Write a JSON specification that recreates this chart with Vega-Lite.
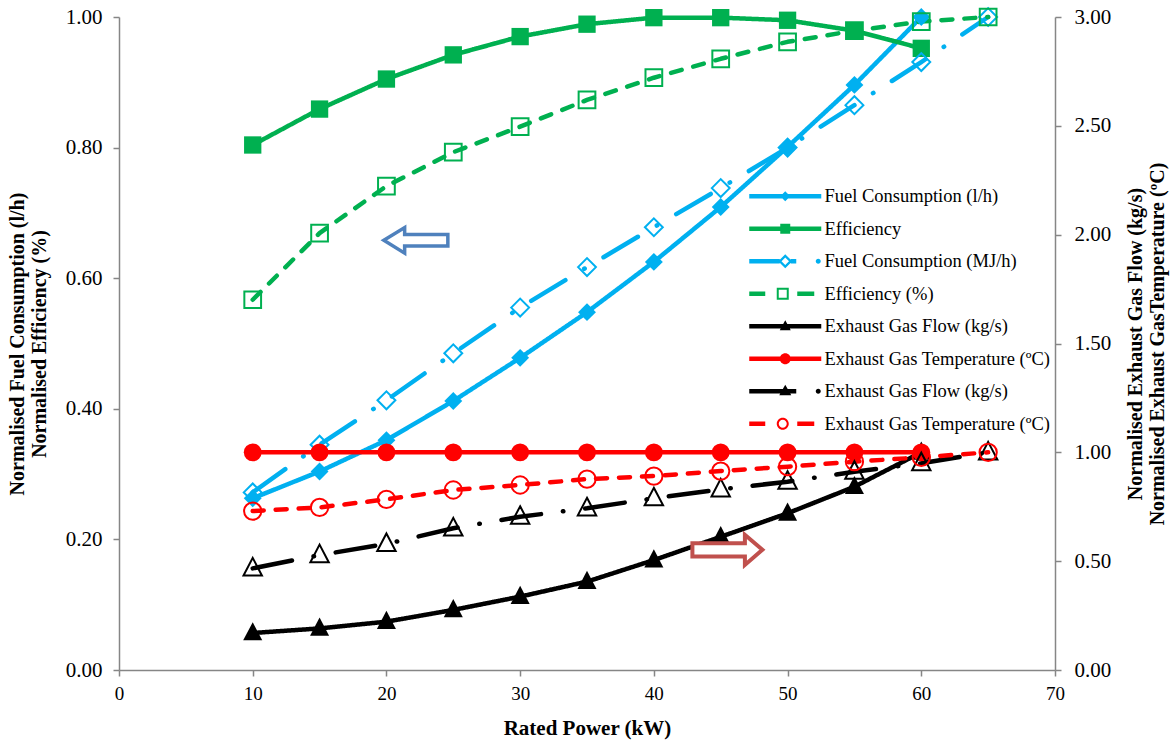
{
  "$schema": "https://vega.github.io/schema/vega-lite/v6.json",
  "width": 936,
  "height": 653,
  "autosize": {"type": "none"},
  "padding": {"left": 119, "top": 17, "right": 117, "bottom": 73},
  "background": "white",
  "config": {
    "view": {"stroke": null},
    "font": "Liberation Serif",
    "axis": {
      "domainColor": "#868686", "tickColor": "#868686", "domainWidth": 1.5, "tickWidth": 1.5,
      "tickSize": 6, "grid": false, "labelFont": "Liberation Serif", "labelColor": "black",
      "titleFont": "Liberation Serif", "titleColor": "black", "titleFontWeight": "bold"
    }
  },
  "datasets": {
    "main": [
      {"power": 10, "value": 0.263, "series": "Fuel Consumption (l/h)"},
      {"power": 15, "value": 0.304, "series": "Fuel Consumption (l/h)"},
      {"power": 20, "value": 0.352, "series": "Fuel Consumption (l/h)"},
      {"power": 25, "value": 0.412, "series": "Fuel Consumption (l/h)"},
      {"power": 30, "value": 0.478, "series": "Fuel Consumption (l/h)"},
      {"power": 35, "value": 0.548, "series": "Fuel Consumption (l/h)"},
      {"power": 40, "value": 0.625, "series": "Fuel Consumption (l/h)"},
      {"power": 45, "value": 0.709, "series": "Fuel Consumption (l/h)"},
      {"power": 50, "value": 0.801, "series": "Fuel Consumption (l/h)"},
      {"power": 55, "value": 0.896, "series": "Fuel Consumption (l/h)"},
      {"power": 60, "value": 1.000, "series": "Fuel Consumption (l/h)"},
      {"power": 10, "value": 0.804, "series": "Efficiency"},
      {"power": 15, "value": 0.859, "series": "Efficiency"},
      {"power": 20, "value": 0.905, "series": "Efficiency"},
      {"power": 25, "value": 0.942, "series": "Efficiency"},
      {"power": 30, "value": 0.970, "series": "Efficiency"},
      {"power": 35, "value": 0.989, "series": "Efficiency"},
      {"power": 40, "value": 0.999, "series": "Efficiency"},
      {"power": 45, "value": 0.999, "series": "Efficiency"},
      {"power": 50, "value": 0.995, "series": "Efficiency"},
      {"power": 55, "value": 0.979, "series": "Efficiency"},
      {"power": 60, "value": 0.952, "series": "Efficiency"},
      {"power": 10, "value": 0.272, "series": "Fuel Consumption (MJ/h)"},
      {"power": 15, "value": 0.345, "series": "Fuel Consumption (MJ/h)"},
      {"power": 20, "value": 0.413, "series": "Fuel Consumption (MJ/h)"},
      {"power": 25, "value": 0.485, "series": "Fuel Consumption (MJ/h)"},
      {"power": 30, "value": 0.555, "series": "Fuel Consumption (MJ/h)"},
      {"power": 35, "value": 0.617, "series": "Fuel Consumption (MJ/h)"},
      {"power": 40, "value": 0.678, "series": "Fuel Consumption (MJ/h)"},
      {"power": 45, "value": 0.738, "series": "Fuel Consumption (MJ/h)"},
      {"power": 50, "value": 0.800, "series": "Fuel Consumption (MJ/h)"},
      {"power": 55, "value": 0.865, "series": "Fuel Consumption (MJ/h)"},
      {"power": 60, "value": 0.931, "series": "Fuel Consumption (MJ/h)"},
      {"power": 65, "value": 1.000, "series": "Fuel Consumption (MJ/h)"},
      {"power": 10, "value": 0.567, "series": "Efficiency (%)"},
      {"power": 15, "value": 0.669, "series": "Efficiency (%)"},
      {"power": 20, "value": 0.741, "series": "Efficiency (%)"},
      {"power": 25, "value": 0.793, "series": "Efficiency (%)"},
      {"power": 30, "value": 0.832, "series": "Efficiency (%)"},
      {"power": 35, "value": 0.873, "series": "Efficiency (%)"},
      {"power": 40, "value": 0.907, "series": "Efficiency (%)"},
      {"power": 45, "value": 0.936, "series": "Efficiency (%)"},
      {"power": 50, "value": 0.962, "series": "Efficiency (%)"},
      {"power": 55, "value": 0.979, "series": "Efficiency (%)"},
      {"power": 60, "value": 0.993, "series": "Efficiency (%)"},
      {"power": 65, "value": 1.000, "series": "Efficiency (%)"},
      {"power": 10, "value": 0.170, "series": "Exhaust Gas Flow (kg/s)"},
      {"power": 15, "value": 0.191, "series": "Exhaust Gas Flow (kg/s)"},
      {"power": 20, "value": 0.222, "series": "Exhaust Gas Flow (kg/s)"},
      {"power": 25, "value": 0.276, "series": "Exhaust Gas Flow (kg/s)"},
      {"power": 30, "value": 0.337, "series": "Exhaust Gas Flow (kg/s)"},
      {"power": 35, "value": 0.406, "series": "Exhaust Gas Flow (kg/s)"},
      {"power": 40, "value": 0.505, "series": "Exhaust Gas Flow (kg/s)"},
      {"power": 45, "value": 0.612, "series": "Exhaust Gas Flow (kg/s)"},
      {"power": 50, "value": 0.720, "series": "Exhaust Gas Flow (kg/s)"},
      {"power": 55, "value": 0.842, "series": "Exhaust Gas Flow (kg/s)"},
      {"power": 60, "value": 1.000, "series": "Exhaust Gas Flow (kg/s)"},
      {"power": 10, "value": 1.000, "series": "Exhaust Gas Temperature (ºC)"},
      {"power": 15, "value": 1.000, "series": "Exhaust Gas Temperature (ºC)"},
      {"power": 20, "value": 1.000, "series": "Exhaust Gas Temperature (ºC)"},
      {"power": 25, "value": 1.000, "series": "Exhaust Gas Temperature (ºC)"},
      {"power": 30, "value": 1.000, "series": "Exhaust Gas Temperature (ºC)"},
      {"power": 35, "value": 1.000, "series": "Exhaust Gas Temperature (ºC)"},
      {"power": 40, "value": 1.000, "series": "Exhaust Gas Temperature (ºC)"},
      {"power": 45, "value": 1.000, "series": "Exhaust Gas Temperature (ºC)"},
      {"power": 50, "value": 1.000, "series": "Exhaust Gas Temperature (ºC)"},
      {"power": 55, "value": 1.000, "series": "Exhaust Gas Temperature (ºC)"},
      {"power": 60, "value": 1.000, "series": "Exhaust Gas Temperature (ºC)"},
      {"power": 10, "value": 0.467, "series": "Exhaust Gas Flow (kg/s) 2"},
      {"power": 15, "value": 0.528, "series": "Exhaust Gas Flow (kg/s) 2"},
      {"power": 20, "value": 0.579, "series": "Exhaust Gas Flow (kg/s) 2"},
      {"power": 25, "value": 0.651, "series": "Exhaust Gas Flow (kg/s) 2"},
      {"power": 30, "value": 0.704, "series": "Exhaust Gas Flow (kg/s) 2"},
      {"power": 35, "value": 0.743, "series": "Exhaust Gas Flow (kg/s) 2"},
      {"power": 40, "value": 0.789, "series": "Exhaust Gas Flow (kg/s) 2"},
      {"power": 45, "value": 0.830, "series": "Exhaust Gas Flow (kg/s) 2"},
      {"power": 50, "value": 0.865, "series": "Exhaust Gas Flow (kg/s) 2"},
      {"power": 55, "value": 0.911, "series": "Exhaust Gas Flow (kg/s) 2"},
      {"power": 60, "value": 0.950, "series": "Exhaust Gas Flow (kg/s) 2"},
      {"power": 65, "value": 1.000, "series": "Exhaust Gas Flow (kg/s) 2"},
      {"power": 10, "value": 0.730, "series": "Exhaust Gas Temperature (ºC) 2"},
      {"power": 15, "value": 0.747, "series": "Exhaust Gas Temperature (ºC) 2"},
      {"power": 20, "value": 0.784, "series": "Exhaust Gas Temperature (ºC) 2"},
      {"power": 25, "value": 0.827, "series": "Exhaust Gas Temperature (ºC) 2"},
      {"power": 30, "value": 0.850, "series": "Exhaust Gas Temperature (ºC) 2"},
      {"power": 35, "value": 0.877, "series": "Exhaust Gas Temperature (ºC) 2"},
      {"power": 40, "value": 0.891, "series": "Exhaust Gas Temperature (ºC) 2"},
      {"power": 45, "value": 0.914, "series": "Exhaust Gas Temperature (ºC) 2"},
      {"power": 50, "value": 0.934, "series": "Exhaust Gas Temperature (ºC) 2"},
      {"power": 55, "value": 0.957, "series": "Exhaust Gas Temperature (ºC) 2"},
      {"power": 60, "value": 0.977, "series": "Exhaust Gas Temperature (ºC) 2"},
      {"power": 65, "value": 1.000, "series": "Exhaust Gas Temperature (ºC) 2"}
    ],
    "arrows": [
      {"power": 22.2, "value": 1.974, "dir": "left"},
      {"power": 45.5, "value": 0.552, "dir": "right"}
    ]
  },
  "data": {"name": "main"},
  "encoding": {
    "x": {
      "field": "power", "type": "quantitative",
      "scale": {"domain": [0, 70], "nice": false, "zero": false},
      "axis": {
        "values": [0, 10, 20, 30, 40, 50, 60, 70], "title": "Rated Power (kW)",
        "labelFontSize": 19, "labelPadding": 8, "labelFlush": false,
        "titleFontSize": 21, "titlePadding": 14
      }
    }
  },
  "layer": [
    {
      "encoding": {
        "y": {
          "field": "value", "type": "quantitative",
          "scale": {"domain": [0, 1], "nice": false},
          "axis": {
            "orient": "left", "values": [0, 0.2, 0.4, 0.6, 0.8, 1], "format": ".2f",
            "labelFontSize": 21, "labelPadding": 11,
            "title": ["Normalised Fuel Consumption (l/h)", "Normalised Efficiency (%)"],
            "titleFontSize": 20, "titleAngle": -90, "titleX": -102, "titleY": 326.5,
            "titleAlign": "center", "titleBaseline": "middle", "titleLineHeight": 22
          }
        }
      },
      "layer": [
        {
          "transform": [{"filter": {"field": "series", "oneOf": ["Fuel Consumption (l/h)", "Efficiency", "Fuel Consumption (MJ/h)", "Efficiency (%)"]}}],
          "mark": {"type": "line", "strokeWidth": 4.5, "strokeCap": "round", "strokeJoin": "round"},
          "encoding": {
            "color": {"field": "series", "type": "nominal", "legend": null,
              "scale": {"domain": ["Fuel Consumption (l/h)", "Efficiency", "Fuel Consumption (MJ/h)", "Efficiency (%)", "Exhaust Gas Flow (kg/s)", "Exhaust Gas Temperature (ºC)", "Exhaust Gas Flow (kg/s) 2", "Exhaust Gas Temperature (ºC) 2"],
                "range": ["#00B0F0", "#00B050", "#00B0F0", "#00B050", "#000000", "#FF0000", "#000000", "#FF0000"]}},
            "strokeDash": {"field": "series", "type": "nominal", "legend": null,
              "scale": {"domain": ["Fuel Consumption (l/h)", "Efficiency", "Fuel Consumption (MJ/h)", "Efficiency (%)", "Exhaust Gas Flow (kg/s)", "Exhaust Gas Temperature (ºC)", "Exhaust Gas Flow (kg/s) 2", "Exhaust Gas Temperature (ºC) 2"],
                "range": [[1, 0], [1, 0], [40, 22, 0.5, 22], [11, 12], [1, 0], [1, 0], [40, 22, 0.5, 22], [11, 12]]}}
          }
        },
        {
          "transform": [{"filter": {"field": "series", "equal": "Fuel Consumption (l/h)"}}],
          "mark": {"type": "point", "shape": "diamond", "filled": true, "size": 320, "opacity": 1},
          "encoding": {"color": {"field": "series", "type": "nominal", "legend": null}}
        },
        {
          "transform": [{"filter": {"field": "series", "equal": "Efficiency"}}],
          "mark": {"type": "point", "shape": "square", "filled": true, "size": 300, "opacity": 1},
          "encoding": {"color": {"field": "series", "type": "nominal", "legend": null}}
        },
        {
          "transform": [{"filter": {"field": "series", "equal": "Fuel Consumption (MJ/h)"}}],
          "mark": {"type": "point", "shape": "diamond", "filled": false, "size": 320, "strokeWidth": 2, "opacity": 1},
          "encoding": {"color": {"field": "series", "type": "nominal", "legend": null}}
        },
        {
          "transform": [{"filter": {"field": "series", "equal": "Efficiency (%)"}}],
          "mark": {"type": "point", "shape": "square", "filled": false, "size": 280, "strokeWidth": 2, "opacity": 1},
          "encoding": {"color": {"field": "series", "type": "nominal", "legend": null}}
        }
      ]
    },
    {
      "encoding": {
        "y": {
          "field": "value", "type": "quantitative",
          "scale": {"domain": [0, 3], "nice": false},
          "axis": {
            "orient": "right", "values": [0, 0.5, 1, 1.5, 2, 2.5, 3], "format": ".2f",
            "labelFontSize": 21, "labelPadding": 13,
            "title": ["Normalised Exhaust Gas Flow (kg/s)", "Normalised Exhaust GasTemperature (ºC)"],
            "titleFontSize": 20, "titleAngle": -90, "titleX": 80, "titleY": 326.5,
            "titleAlign": "center", "titleBaseline": "middle", "titleLineHeight": 22
          }
        }
      },
      "layer": [
        {
          "transform": [{"filter": {"field": "series", "oneOf": ["Exhaust Gas Flow (kg/s)", "Exhaust Gas Temperature (ºC)", "Exhaust Gas Flow (kg/s) 2", "Exhaust Gas Temperature (ºC) 2"]}}],
          "mark": {"type": "line", "strokeWidth": 4.5, "strokeCap": "round", "strokeJoin": "round"},
          "encoding": {
            "color": {"field": "series", "type": "nominal", "legend": null},
            "strokeDash": {"field": "series", "type": "nominal", "legend": null}
          }
        },
        {
          "transform": [{"filter": {"field": "series", "equal": "Exhaust Gas Flow (kg/s)"}}],
          "mark": {"type": "point", "shape": "M0,-1.25L1.1,0.85H-1.1Z", "filled": true, "size": 300, "opacity": 1},
          "encoding": {"color": {"field": "series", "type": "nominal", "legend": null}}
        },
        {
          "transform": [{"filter": {"field": "series", "equal": "Exhaust Gas Temperature (ºC)"}}],
          "mark": {"type": "point", "shape": "circle", "filled": true, "size": 320, "opacity": 1},
          "encoding": {"color": {"field": "series", "type": "nominal", "legend": null}}
        },
        {
          "transform": [{"filter": {"field": "series", "equal": "Exhaust Gas Flow (kg/s) 2"}}],
          "mark": {"type": "point", "shape": "M0,-1.25L1.1,0.85H-1.1Z", "filled": false, "size": 280, "strokeWidth": 2, "opacity": 1},
          "encoding": {"color": {"field": "series", "type": "nominal", "legend": null}}
        },
        {
          "transform": [{"filter": {"field": "series", "equal": "Exhaust Gas Temperature (ºC) 2"}}],
          "mark": {"type": "point", "shape": "circle", "filled": false, "size": 300, "strokeWidth": 2, "opacity": 1},
          "encoding": {"color": {"field": "series", "type": "nominal", "legend": null}}
        },
        {
          "data": {"name": "arrows"},
          "transform": [{"filter": "datum.dir == 'left'"}],
          "mark": {"type": "point", "shape": "M-1,0L-0.35,-0.4V-0.18H1V0.18H-0.35V0.4Z", "size": 4096, "filled": true, "fill": "white", "stroke": "#4F81BD", "strokeWidth": 3.5, "opacity": 1}
        },
        {
          "data": {"name": "arrows"},
          "transform": [{"filter": "datum.dir == 'right'"}],
          "mark": {"type": "point", "shape": "M1,0L0.5,-0.43V-0.19H-1V0.19H0.5V0.43Z", "size": 4900, "filled": true, "fill": "white", "stroke": "#C0504D", "strokeWidth": 4, "opacity": 1}
        }
      ]
    },
    {
      "mark": {"type": "point", "filled": true, "opacity": 0},
      "encoding": {
        "fill": {
          "field": "series", "type": "nominal",
          "scale": {
            "domain": ["Fuel Consumption (l/h)", "Efficiency", "Fuel Consumption (MJ/h)", "Efficiency (%)", "Exhaust Gas Flow (kg/s)", "Exhaust Gas Temperature (ºC)", "Exhaust Gas Flow (kg/s) 2", "Exhaust Gas Temperature (ºC) 2"],
            "range": ["#00B0F0", "#00B050", "#00B0F0", "#00B050", "#000000", "#FF0000", "#000000", "#FF0000"]
          },
          "legend": {
            "orient": "none", "legendX": 657, "legendY": 170, "title": null, "padding": 0,
            "symbolSize": 100, "symbolStrokeWidth": 0, "symbolOpacity": 1,
            "labelFont": "Liberation Serif", "labelFontSize": 18.5, "labelColor": "black",
            "labelOffset": 30, "rowPadding": 13.5, "labelLimit": 0,
            "labelExpr": "replace(datum.label, ' 2', '')"
          }
        },
        "shape": {
          "field": "series", "type": "nominal",
          "scale": {
            "domain": ["Fuel Consumption (l/h)", "Efficiency", "Fuel Consumption (MJ/h)", "Efficiency (%)", "Exhaust Gas Flow (kg/s)", "Exhaust Gas Temperature (ºC)", "Exhaust Gas Flow (kg/s) 2", "Exhaust Gas Temperature (ºC) 2"],
            "range": [
              "M-7.2,-0.45H7.2V0.45H-7.2Z M0,-1L1,0L0,1L-1,0Z",
              "M-7.2,-0.45H7.2V0.45H-7.2Z M-1,-1H1V1H-1Z",
              "M-7.2,-0.45H-1.1V0.45H-7.2Z M1.1,-0.45H2.2V0.45H1.1Z M0,-1.4L1.4,0L0,1.4L-1.4,0Z M0,-0.75L-0.75,0L0,0.75L0.75,0Z M6.1,0A0.5,0.5 0 1,1 7.1,0A0.5,0.5 0 1,1 6.1,0Z",
              "M-7.2,-0.45H-4.0V0.45H-7.2Z M2.4,-0.45H5.8V0.45H2.4Z M-1.7,-1.2H0.7V1.2H-1.7Z M-1.3,-0.8V0.8H0.3V-0.8Z",
              "M-7.2,-0.45H7.2V0.45H-7.2Z M0,-1.2L1.1,0.8H-1.1Z",
              "M-7.2,-0.45H7.2V0.45H-7.2Z M-1.1,0A1.1,1.1 0 1,1 1.1,0A1.1,1.1 0 1,1 -1.1,0Z",
              "M-7.2,-0.45H2.2V0.45H-7.2Z M0,-1.3L1.2,0.8H-1.2Z M6.1,0A0.5,0.5 0 1,1 7.1,0A0.5,0.5 0 1,1 6.1,0Z",
              "M-7.2,-0.45H-4.0V0.45H-7.2Z M2.4,-0.45H5.8V0.45H2.4Z M-1.7,0A1.2,1.2 0 1,1 0.7,0A1.2,1.2 0 1,1 -1.7,0Z M-1.3,0A0.8,0.8 0 1,0 0.3,0A0.8,0.8 0 1,0 -1.3,0Z"
            ]
          },
          "legend": {
            "orient": "none", "legendX": 657, "legendY": 170, "title": null, "padding": 0,
            "symbolSize": 100, "symbolStrokeWidth": 0, "symbolOpacity": 1,
            "labelFont": "Liberation Serif", "labelFontSize": 18.5, "labelColor": "black",
            "labelOffset": 30, "rowPadding": 13.5, "labelLimit": 0,
            "labelExpr": "replace(datum.label, ' 2', '')"
          }
        }
      }
    }
  ],
  "resolve": {"scale": {"y": "independent", "shape": "independent", "fill": "independent"}}
}
